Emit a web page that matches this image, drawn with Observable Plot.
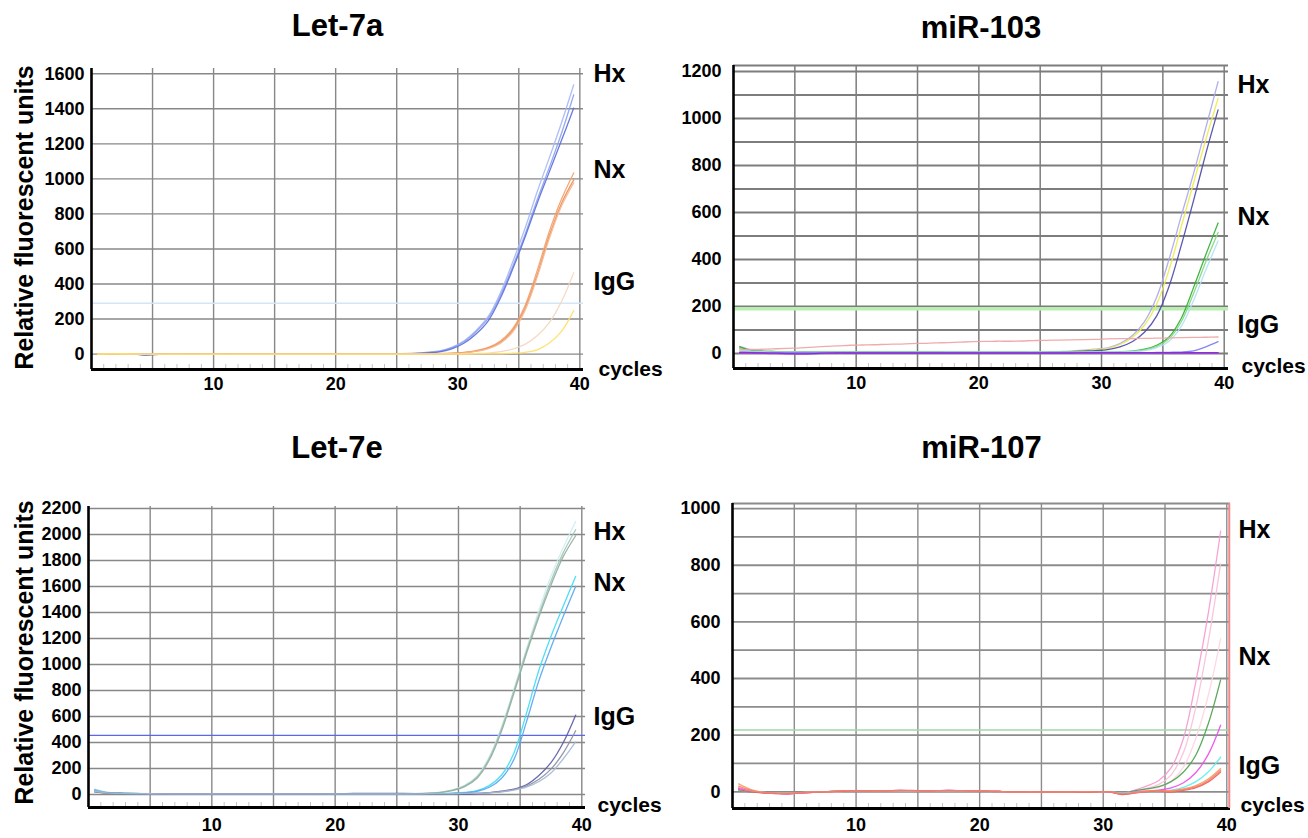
<!DOCTYPE html>
<html>
<head>
<meta charset="utf-8">
<script src="https://cdn.jsdelivr.net/npm/d3@7"></script>
<script src="https://cdn.jsdelivr.net/npm/@observablehq/plot@0.6"></script>
<style>
  html, body { margin: 0; padding: 0; background: #fff; }
  #fig { position: relative; width: 1308px; height: 838px; background: #fff; overflow: hidden; }
  .cell { position: absolute; }
</style>
</head>
<body>
<div id="fig"></div>
<script>
// ---------- shared ----------
const cycles = [1,2,3,4,5,6,7,8,9,10,11,12,13,14,15,16,17,18,19,20,
                21,22,23,24,25,26,27,28,29,30,31,32,33,34,35,36,37,38,39,40];
const xTickLabels = [10, 20, 30, 40];
const xGrid = [5, 10, 15, 20, 25, 30, 35, 40];
const minorTicks = [1,2,3,4,6,7,8,9,11,12,13,14,16,17,18,19,21,22,23,24,26,27,28,29,31,32,33,34,36,37,38,39];
const groupLabels = ["Hx", "Nx", "IgG"];

// ---------- Let-7a ----------
const let7aHx = [
  [0,2,3,2,-3,0,1,0,0,1, 0,0,1,0,0,0,1,0,0,0, 0,1,0,0,1,2,5,10,18,38, 75,135,215,350,525,715,925,1120,1320,1537],
  [0,1,2,1,-5,0,0,1,0,0, 1,0,0,0,1,0,0,0,1,0, 0,0,1,0,0,2,4,9,16,35, 70,128,205,335,500,680,880,1065,1260,1480],
  [1,2,2,0,-6,-1,0,0,1,0, 0,1,0,0,0,1,0,0,0,0, 1,0,0,0,0,1,3,7,13,30, 62,115,190,320,485,665,860,1040,1220,1404]
];
const let7aNx = [
  [0,1,1,0,0,0,0,0,0,0, 0,0,0,0,0,0,0,0,0,0, 0,0,0,0,0,1,1,2,3,5, 10,20,38,75,145,275,475,700,885,1034],
  [0,0,1,1,0,0,0,0,0,0, 0,0,0,0,0,0,0,0,0,0, 0,0,0,0,0,0,1,2,2,4, 8,17,34,68,135,258,450,675,860,994],
  [1,1,0,0,0,0,0,0,0,0, 0,0,0,0,0,0,0,0,0,0, 0,0,0,0,0,0,1,1,2,3, 7,15,31,62,126,248,438,660,845,977]
];
const let7aIgG = [
  [0,1,1,0,0,0,0,0,0,0, 0,0,0,0,0,0,0,0,0,0, 0,0,0,0,0,0,0,0,1,1, 2,3,6,14,28,55,105,180,300,465],
  [0,1,2,1,0,0,0,0,0,0, 0,0,0,0,0,0,0,0,0,0, 0,0,0,0,0,0,0,0,0,0, 0,1,1,2,5,10,24,63,130,248]
];
const let7aThreshold = 290;
const let7aYTicks = [0,200,400,600,800,1000,1200,1400,1600];
const let7aYGrid = [0,200,400,600,800,1000,1200,1400,1600];

// ---------- miR-103 ----------
const mir103Hx = [
  [30,15,10,8,6,6,5,5,5,5, 5,5,5,5,5,5,5,5,5,5, 5,5,5,5,5,6,8,10,14,18, 24,42,75,135,240,400,585,765,960,1156],
  [25,12,8,6,6,5,5,5,5,5, 5,5,5,5,5,5,5,5,5,5, 5,5,5,5,5,6,7,9,12,16, 22,38,68,120,210,355,540,725,910,1085],
  [5,5,4,4,4,4,4,4,4,4, 4,4,4,4,4,4,4,4,4,4, 4,4,4,4,4,5,6,8,10,12, 16,28,50,90,160,285,460,650,850,1036]
];
const mir103Nx = [
  [28,12,9,8,7,7,7,7,7,7, 7,7,7,7,7,7,7,6,6,6, 6,6,6,6,6,6,6,6,6,6, 6,7,10,18,35,70,150,280,420,555],
  [20,10,8,7,7,6,6,6,6,6, 6,6,6,6,6,6,6,6,6,6, 6,6,6,6,6,6,6,6,6,6, 6,7,9,15,30,62,135,255,390,515],
  [15,9,7,6,6,6,6,6,6,6, 6,6,6,6,6,6,6,6,6,6, 6,6,6,6,6,6,6,6,6,6, 6,6,8,12,25,52,115,225,355,478]
];
const mir103IgG = [
  [15,17,18,20,22,24,27,30,32,35, 36,37,39,40,42,43,45,46,48,50, 51,52,52,53,55,56,57,58,59,60, 62,63,63,64,65,66,67,68,69,70],
  [5,4,3,3,3,3,3,3,3,3, 3,3,3,3,3,3,3,3,3,3, 3,3,3,3,3,3,3,3,3,3, 3,3,3,3,4,5,6,11,28,50],
  [2,1,0,-1,-2,-2,-1,0,1,1, 1,1,1,1,1,1,1,1,1,1, 1,1,1,1,1,1,1,1,1,1, 1,1,1,1,1,1,1,1,1,2],
  [4,3,2,1,-1,-2,-1,1,2,2, 2,2,2,2,2,2,2,2,2,2, 2,2,2,2,2,2,2,2,3,3, 3,3,3,3,3,3,3,3,3,3]
];
const mir103Threshold = 190;
const mir103YTicks = [0,200,400,600,800,1000,1200];
const mir103YGrid = [0,100,200,300,400,500,600,700,800,900,1000,1100,1200,1225];

// ---------- Let-7e ----------
const let7eHx = [
  [42,18,12,10,8,7,6,6,6,6, 6,6,6,6,6,6,6,6,6,6, 6,6,6,6,6,7,8,11,18,35, 70,140,290,520,810,1115,1410,1680,1900,2100],
  [38,16,11,9,7,6,6,5,5,5, 5,5,5,5,5,5,5,5,5,5, 5,5,5,5,5,6,7,10,17,33, 66,135,280,510,800,1100,1380,1640,1860,2036],
  [35,15,10,8,6,5,5,5,5,5, 5,5,5,5,5,5,5,5,5,5, 5,5,5,5,5,5,6,9,15,30, 60,125,265,490,780,1080,1360,1610,1830,1990]
];
const let7eNx = [
  [30,14,10,8,6,5,5,5,5,5, 5,5,5,5,5,5,5,5,5,5, 5,5,5,5,5,5,6,7,8,11, 16,30,68,150,320,620,950,1215,1450,1677],
  [28,13,9,7,6,5,5,5,5,5, 5,5,5,5,5,5,5,5,5,5, 5,5,5,5,5,5,6,6,7,9, 13,25,56,125,270,555,870,1130,1370,1600]
];
const let7eIgG = [
  [20,10,8,6,5,5,5,5,5,5, 5,5,5,5,5,5,5,5,5,6, 7,8,8,9,9,8,7,6,5,6, 3,7,15,25,42,75,145,245,400,610],
  [22,11,8,6,5,5,5,5,5,5, 5,5,5,5,5,5,5,5,5,5, 5,5,5,5,5,5,5,6,6,7, 8,10,14,22,38,64,115,195,320,490],
  [25,12,9,7,6,5,5,5,5,5, 5,5,5,5,5,5,5,5,5,5, 5,5,5,5,5,5,5,6,6,7, 8,9,12,20,34,56,98,165,275,405]
];
const let7eThreshold = 455;
const let7eYTicks = [0,200,400,600,800,1000,1200,1400,1600,1800,2000,2200];
const let7eYGrid = [0,200,400,600,800,1000,1200,1400,1600,1800,2000,2200];

// ---------- miR-107 ----------
const mir107Hx = [
  [15,3,-4,-6,-8,-4,-2,0,2,4, 3,2,3,5,4,3,4,5,4,3, 2,1,0,0,0,-1,0,0,-1,0, 0,-8,5,20,40,85,190,390,630,920],
  [10,2,-3,-5,-7,-4,-2,0,1,3, 3,2,3,4,4,3,4,4,4,3, 2,1,0,0,0,-1,0,0,-1,0, 0,-6,3,12,26,60,140,300,530,805],
  [8,2,-2,-4,-6,-3,-1,0,1,3, 2,2,3,4,3,3,3,4,3,2, 2,1,0,0,0,0,0,0,-1,0, 0,-5,2,8,16,38,88,190,340,540]
];
const mir107Nx = [
  [5,0,-3,-4,-5,-3,-1,0,2,3, 3,2,3,4,4,3,4,4,4,3, 2,1,0,0,0,-1,0,0,-1,0, 0,-5,3,10,18,36,70,130,240,395],
  [12,2,-3,-5,-7,-4,-2,0,2,3, 3,2,3,5,4,3,4,5,4,3, 2,1,0,0,0,-1,0,0,-1,0, 0,-6,0,2,6,14,32,68,132,235]
];
const mir107IgG = [
  [6,1,-3,-4,-5,-3,-1,0,2,3, 3,2,3,4,4,3,4,4,4,3, 2,1,0,0,0,-1,0,0,-1,0, 0,-5,-2,0,2,6,16,36,70,122],
  [28,8,-2,-5,-6,-3,-1,0,2,3, 3,2,3,4,4,3,4,4,4,3, 2,1,0,0,0,-1,0,0,-1,0, 0,-8,-4,2,5,4,10,22,45,82],
  [8,0,-4,-6,-7,-4,-2,0,1,3, 3,2,3,5,5,3,4,5,4,3, 2,1,0,0,0,-1,0,0,-2,0, 0,-10,-5,0,3,-1,5,15,35,70],
  [20,5,-3,-5,-6,-3,-1,0,2,3, 3,2,3,4,4,3,4,4,4,3, 2,1,0,0,0,-1,0,0,-1,0, 0,-7,-3,1,4,1,8,18,40,76]
];
const mir107Threshold = 218;
const mir107YTicks = [0,200,400,600,800,1000];
const mir107YGrid = [0,100,200,300,400,500,600,700,800,900,1000,1018];

// ---------- styles & layout (kept apart from the data) ----------
const panels = [
  {
    title: "Let-7a", groups: [let7aHx, let7aNx, let7aIgG],
    colors: [["#a7b8f5", "#8ea3f0", "#5b6fdc"], ["#f2a26f", "#ee8c4e", "#f6b892"], ["#f3d6bf", "#ffe067"]],
    threshold: let7aThreshold, thresholdColor: "#d3e6f7", thresholdWidth: 1.5,
    yTicks: let7aYTicks, yGrid: let7aYGrid,
    left: 0, top: 0, width: 660, height: 420,
    mL: 91, mR: 77, mT: 68, mB: 51,
    xDomain: [0, 40.3], yDomain: [-88, 1630],
    tickPadY: 7, tickPadX: 8, labelY: [1596, 1048, 414], labelDx: 10,
    cyclesDx: 15, cyclesDy: 0, titleY: 26, yLabel: true, yLabelY: 217,
    gridColor: "#888888", gridW: 1.4, hGridW: 1.4
  },
  {
    title: "miR-103", groups: [mir103Hx, mir103Nx, mir103IgG],
    colors: [["#a9a9ee", "#efe94a", "#4d4aa8"], ["#32b032", "#7fd87f", "#b3e0f5"], ["#eea4a4", "#7b7bf0", "#e23fe2", "#7a32d6"]],
    threshold: mir103Threshold, thresholdColor: "#b8efb0", thresholdWidth: 3.5,
    yTicks: mir103YTicks, yGrid: mir103YGrid,
    left: 660, top: 0, width: 648, height: 420,
    mL: 73, mR: 80, mT: 65, mB: 52,
    xDomain: [0, 40.35], yDomain: [-64, 1225],
    tickPadY: 12, tickPadX: 8, labelY: [1140, 580, 119], labelDx: 9,
    cyclesDx: 13, cyclesDy: -2, titleY: 28, yLabel: false,
    gridColor: "#7d7d7d", gridW: 1.5, hGridW: 2
  },
  {
    title: "Let-7e", groups: [let7eHx, let7eNx, let7eIgG],
    colors: [["#cdeef2", "#a7c6b6", "#90ae9f"], ["#3fdcf2", "#5aa6f2"], ["#5c5ca6", "#8e8e9e", "#a4bad6"]],
    threshold: let7eThreshold, thresholdColor: "#5b66f0", thresholdWidth: 1.2,
    yTicks: let7eYTicks, yGrid: let7eYGrid,
    left: 0, top: 420, width: 660, height: 418,
    mL: 88, mR: 75, mT: 86, mB: 31,
    xDomain: [0, 40.3], yDomain: [-100, 2215],
    tickPadY: 7, tickPadX: 11, labelY: [2018, 1625, 595], labelDx: 8,
    cyclesDx: 12, cyclesDy: -2, titleY: 28, yLabel: true, yLabelY: 232,
    gridColor: "#888888", gridW: 1.4, hGridW: 1.4
  },
  {
    title: "miR-107", groups: [mir107Hx, mir107Nx, mir107IgG],
    colors: [["#f59cd0", "#f9c0da", "#fcd6e2"], ["#4ea24e", "#ee4cee"], ["#5cf0f0", "#f2a05e", "#ee5a5a", "#f58070"]],
    threshold: mir107Threshold, thresholdColor: "#a3d8a3", thresholdWidth: 1.6,
    yTicks: mir107YTicks, yGrid: mir107YGrid,
    left: 660, top: 420, width: 648, height: 418,
    mL: 72, mR: 78, mT: 83, mB: 30,
    xDomain: [0, 40.3], yDomain: [-59, 1018],
    tickPadY: 12, tickPadX: 10, labelY: [926, 476, 90], labelDx: 8,
    cyclesDx: 10, cyclesDy: -3, titleY: 28, yLabel: false, redEdge: 40.2,
    gridColor: "#8c8c8c", gridW: 1.4, hGridW: 1.8
  }
];

const fig = document.getElementById("fig");

for (const p of panels) {
  // tidy rows built from the named arrays
  const rows = [];
  p.groups.forEach((group, gi) => {
    group.forEach((series, si) => {
      series.forEach((v, k) => {
        rows.push({id: `${gi}-${si}`, cycle: cycles[k] - 0.5, value: v, color: p.colors[gi][si]});
      });
    });
  });
  const [yMin] = p.yDomain;
  const xMax = p.xDomain[1];
  const frameH = p.height - p.mT - p.mB;

  const labels = groupLabels.map((t, i) => ({text: t, y: p.labelY[i]}));

  const marks = [
    Plot.ruleY(p.yGrid, {stroke: p.gridColor, strokeWidth: p.hGridW}),
    Plot.ruleX(xGrid, {stroke: p.gridColor, strokeWidth: p.gridW}),
    Plot.ruleX(minorTicks, {stroke: "#c4c4c4", strokeWidth: 1, insetTop: frameH - 5}),
    Plot.ruleY([p.threshold], {stroke: p.thresholdColor, strokeWidth: p.thresholdWidth}),
    Plot.line(rows, {x: "cycle", y: "value", z: "id", stroke: "color", strokeWidth: 1.3, strokeOpacity: 0.92, curve: "catmull-rom"}),
    Plot.ruleX([0], {stroke: "#000", strokeWidth: 2.6}),
    Plot.ruleY([yMin], {stroke: "#000", strokeWidth: 3}),
    Plot.text(labels, {x: xMax, y: "y", text: "text", dx: p.labelDx, textAnchor: "start", lineAnchor: "middle", fontSize: 25, fontWeight: "bold", fill: "#000"}),
    Plot.text(["cycles"], {x: xMax, y: yMin, text: d => d, dx: p.cyclesDx, dy: p.cyclesDy, textAnchor: "start", lineAnchor: "middle", fontSize: 21, fontWeight: "bold", fill: "#000"}),
    Plot.text([p.title], {frameAnchor: "top", text: d => d, dy: p.titleY - p.mT, textAnchor: "middle", lineAnchor: "middle", fontSize: 31, fontWeight: "bold", fill: "#000"})
  ];
  if (p.redEdge) marks.push(Plot.ruleX([p.redEdge], {stroke: "#f08a8a", strokeWidth: 2}));
  if (p.yLabel) {
    marks.push(Plot.text(["Relative fluorescent units"], {
      frameAnchor: "left", text: d => d, rotate: -90,
      textAnchor: "middle", lineAnchor: "middle",
      dx: 24 - p.mL, dy: p.yLabelY - (p.mT + frameH / 2),
      fontSize: 25, fontWeight: "bold", fill: "#000"
    }));
  }

  const chart = Plot.plot({
    width: p.width, height: p.height,
    marginLeft: p.mL, marginRight: p.mR, marginTop: p.mT, marginBottom: p.mB,
    x: {domain: p.xDomain, ticks: xTickLabels, tickSize: 0, tickPadding: p.tickPadX, tickFormat: d => `${d}`, label: null},
    y: {domain: p.yDomain, ticks: p.yTicks, tickSize: 0, tickPadding: p.tickPadY, tickFormat: d => `${d}`, label: null},
    color: {type: "identity"},
    style: {fontFamily: "'Liberation Sans', Arial, Helvetica, sans-serif", fontSize: "18px", fontWeight: "bold", color: "#000", background: "transparent", overflow: "visible"},
    marks
  });
  const cell = document.createElement("div");
  cell.className = "cell";
  cell.style.left = p.left + "px";
  cell.style.top = p.top + "px";
  cell.appendChild(chart);
  fig.appendChild(cell);
}
</script>
</body>
</html>
